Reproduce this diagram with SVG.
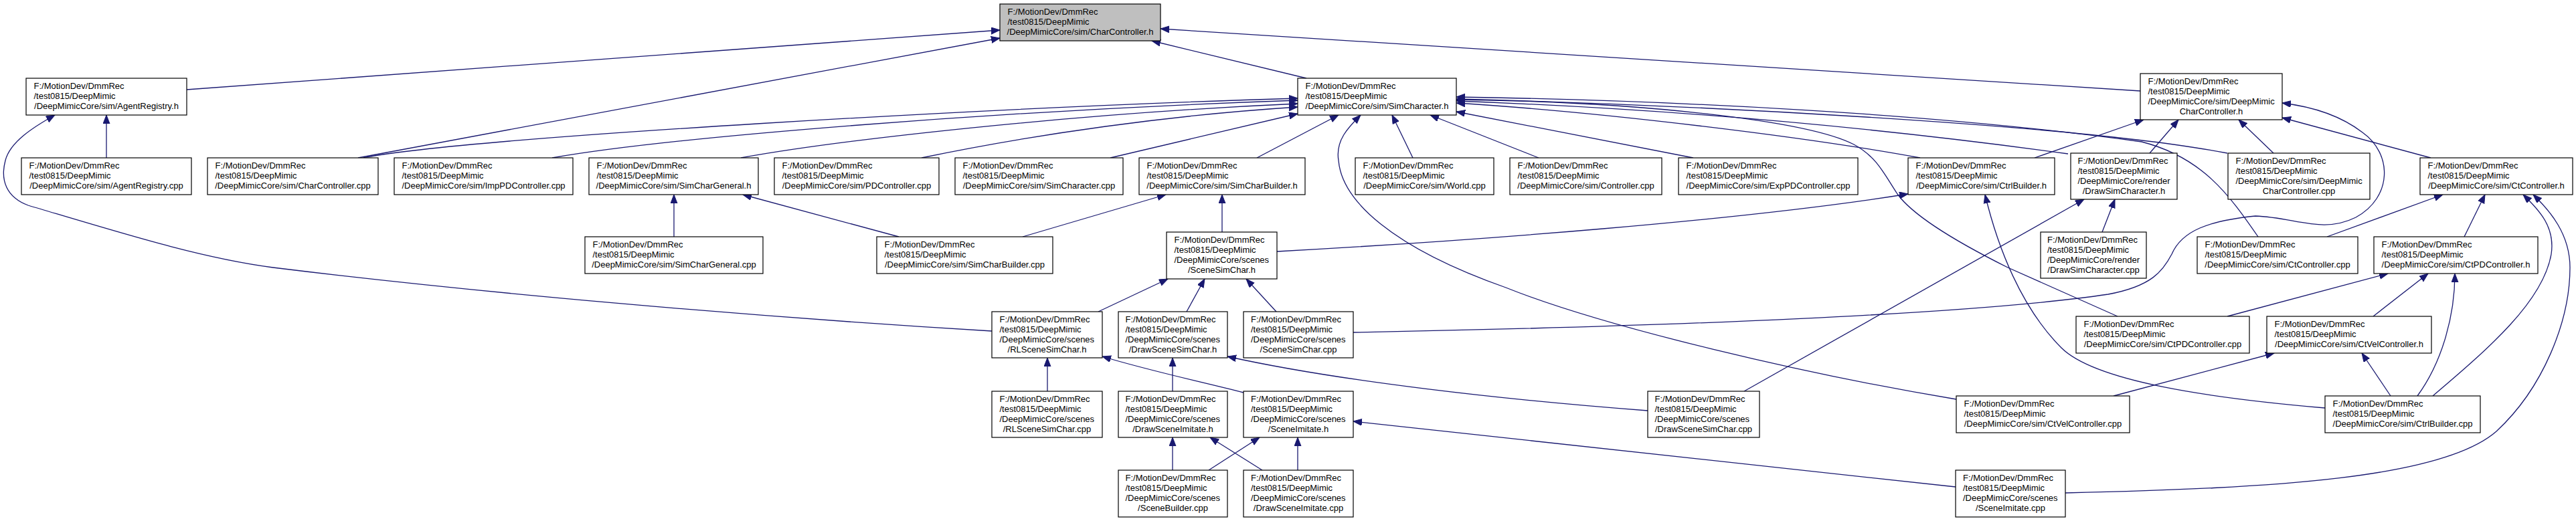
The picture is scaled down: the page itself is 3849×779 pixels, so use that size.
<svg xmlns="http://www.w3.org/2000/svg" width="3849" height="779" viewBox="0 0 3849 779">
<defs>
<marker id="a" markerUnits="userSpaceOnUse" markerWidth="14" markerHeight="11" refX="13" refY="5" orient="auto">
<path d="M0,0 L13,5 L0,10 z" fill="#191970" stroke="#191970" stroke-width="1"/>
</marker>
<style>
.n rect{fill:#ffffff;stroke:#000000;stroke-width:1.2}
.n.root rect{fill:#bfbfbf}
.n text{font-family:"Liberation Sans",Arial,sans-serif;font-size:13px;fill:#000000}
.c path{fill:none;stroke:#191970;stroke-width:1.3;marker-end:url(#a)}
.m{text-anchor:middle}
</style>
</defs>
<rect width="3849" height="779" fill="#ffffff"/>
<g class="c" id="connectors">
<path d="M279,134 L1494,45"/>
<path d="M535,236 L1494,57"/>
<path d="M1952,117 L1721,61"/>
<path d="M3198,136 L1734,43"/>
<path d="M159,236 L159,172"/>
<path d="M1482,495 C1100,472 700,436 408,400 C300,386 180,348 42,307 C10,295 0,270 8,240 C15,212 50,190 82,172"/>
<path d="M543,236 C700,205 1500,160 1939,147"/>
<path d="M825,236 C1000,205 1500,165 1939,150"/>
<path d="M1107,236 C1250,210 1600,170 1939,155"/>
<path d="M1377,236 C1550,200 1750,172 1939,160"/>
<path d="M1659,236 L1939,170"/>
<path d="M1878,236 L2000,172"/>
<path d="M2111,236 L2080,172"/>
<path d="M2299,236 L2137,172"/>
<path d="M2530,236 L2176,167"/>
<path d="M2869,236 C2700,205 2400,168 2176,154"/>
<path d="M3090,230 C2800,190 2500,163 2176,151"/>
<path d="M3328,229 C3100,185 2500,156 2176,148"/>
<path d="M3374,354 C3330,290 3290,235 3200,212 C2900,170 2500,150 2176,145"/>
<path d="M3164,473 L3000,400 C2930,365 2860,325 2835,290 C2815,260 2805,235 2770,216 C2700,180 2450,152 2176,149"/>
<path d="M2923,597 C2700,560 2400,490 2250,430 C2080,370 2005,300 2000,240 C1995,210 2015,190 2033,172"/>
<path d="M1343,354 L1110,291"/>
<path d="M1007,354 L1007,291"/>
<path d="M1528,354 L1742,291"/>
<path d="M1826,347 L1826,291"/>
<path d="M1908,376 C2200,360 2600,330 2851,290"/>
<path d="M3040,236 L3203,179"/>
<path d="M3212,229 L3255,179"/>
<path d="M3397,229 L3345,179"/>
<path d="M3632,236 L3410,176"/>
<path d="M2022,497 C2500,488 2950,470 3150,440 C3215,428 3232,405 3245,380 C3260,345 3300,330 3370,323 C3430,325 3470,350 3520,325 C3575,295 3575,230 3530,198 C3500,175 3460,160 3410,154"/>
<path d="M2606,585 L3114,298"/>
<path d="M3141,347 L3160,298"/>
<path d="M3474,610 C3300,595 3130,570 3080,520 C3020,460 2985,370 2966,291"/>
<path d="M3477,354 L3650,291"/>
<path d="M3682,354 L3713,291"/>
<path d="M3635,592 C3720,520 3800,450 3812,380 C3818,340 3795,315 3770,291"/>
<path d="M3086,737 C3400,730 3650,715 3730,645 C3800,580 3840,480 3840,400 C3840,350 3810,315 3785,291"/>
<path d="M3328,473 L3568,409"/>
<path d="M3546,473 L3628,409"/>
<path d="M3612,592 C3650,540 3668,470 3668,409"/>
<path d="M3572,592 L3529,528"/>
<path d="M3158,592 L3398,528"/>
<path d="M1641,466 L1745,417"/>
<path d="M1773,466 L1800,417"/>
<path d="M1907,466 L1862,417"/>
<path d="M1565,585 L1565,535"/>
<path d="M1858,587 C1800,572 1720,555 1647,533"/>
<path d="M1752,585 L1752,535"/>
<path d="M2462,614 C2250,598 2000,570 1834,533"/>
<path d="M1752,703 L1752,654"/>
<path d="M1886,703 L1808,654"/>
<path d="M1806,703 L1882,654"/>
<path d="M1939,703 L1939,654"/>
<path d="M2922,728 L2022,630"/>
</g>
<g class="n root" id="charcontroller_h"><rect x="1494" y="6" width="240" height="55"/><text><tspan x="1505.5" y="22">F:/MotionDev/DmmRec</tspan><tspan x="1505.5" y="37">/test0815/DeepMimic</tspan><tspan class="m" x="1614" y="52">/DeepMimicCore/sim/CharController.h</tspan></text></g>
<g class="n" id="agentregistry_h"><rect x="39" y="117" width="240" height="55"/><text><tspan x="50.5" y="133">F:/MotionDev/DmmRec</tspan><tspan x="50.5" y="148">/test0815/DeepMimic</tspan><tspan class="m" x="159" y="163">/DeepMimicCore/sim/AgentRegistry.h</tspan></text></g>
<g class="n" id="simcharacter_h"><rect x="1939" y="117" width="237" height="55"/><text><tspan x="1950.5" y="133">F:/MotionDev/DmmRec</tspan><tspan x="1950.5" y="148">/test0815/DeepMimic</tspan><tspan class="m" x="2057.5" y="163">/DeepMimicCore/sim/SimCharacter.h</tspan></text></g>
<g class="n" id="deepmimiccharcontroller_h"><rect x="3198" y="110" width="212" height="69"/><text><tspan x="3209.5" y="126">F:/MotionDev/DmmRec</tspan><tspan x="3209.5" y="141">/test0815/DeepMimic</tspan><tspan x="3209.5" y="156">/DeepMimicCore/sim/DeepMimic</tspan><tspan class="m" x="3304" y="171">CharController.h</tspan></text></g>
<g class="n" id="agentregistry_cpp"><rect x="32" y="236" width="254" height="55"/><text><tspan x="43.5" y="252">F:/MotionDev/DmmRec</tspan><tspan x="43.5" y="267">/test0815/DeepMimic</tspan><tspan class="m" x="159" y="282">/DeepMimicCore/sim/AgentRegistry.cpp</tspan></text></g>
<g class="n" id="charcontroller_cpp"><rect x="310" y="236" width="255" height="55"/><text><tspan x="321.5" y="252">F:/MotionDev/DmmRec</tspan><tspan x="321.5" y="267">/test0815/DeepMimic</tspan><tspan class="m" x="437.5" y="282">/DeepMimicCore/sim/CharController.cpp</tspan></text></g>
<g class="n" id="imppdcontroller_cpp"><rect x="589" y="236" width="267" height="55"/><text><tspan x="600.5" y="252">F:/MotionDev/DmmRec</tspan><tspan x="600.5" y="267">/test0815/DeepMimic</tspan><tspan class="m" x="722.5" y="282">/DeepMimicCore/sim/ImpPDController.cpp</tspan></text></g>
<g class="n" id="simchargeneral_h"><rect x="880" y="236" width="253" height="55"/><text><tspan x="891.5" y="252">F:/MotionDev/DmmRec</tspan><tspan x="891.5" y="267">/test0815/DeepMimic</tspan><tspan class="m" x="1006.5" y="282">/DeepMimicCore/sim/SimCharGeneral.h</tspan></text></g>
<g class="n" id="pdcontroller_cpp"><rect x="1157" y="236" width="246" height="55"/><text><tspan x="1168.5" y="252">F:/MotionDev/DmmRec</tspan><tspan x="1168.5" y="267">/test0815/DeepMimic</tspan><tspan class="m" x="1280" y="282">/DeepMimicCore/sim/PDController.cpp</tspan></text></g>
<g class="n" id="simcharacter_cpp"><rect x="1427" y="236" width="251" height="55"/><text><tspan x="1438.5" y="252">F:/MotionDev/DmmRec</tspan><tspan x="1438.5" y="267">/test0815/DeepMimic</tspan><tspan class="m" x="1552.5" y="282">/DeepMimicCore/sim/SimCharacter.cpp</tspan></text></g>
<g class="n" id="simcharbuilder_h"><rect x="1702" y="236" width="248" height="55"/><text><tspan x="1713.5" y="252">F:/MotionDev/DmmRec</tspan><tspan x="1713.5" y="267">/test0815/DeepMimic</tspan><tspan class="m" x="1826" y="282">/DeepMimicCore/sim/SimCharBuilder.h</tspan></text></g>
<g class="n" id="world_cpp"><rect x="2025" y="236" width="207" height="55"/><text><tspan x="2036.5" y="252">F:/MotionDev/DmmRec</tspan><tspan x="2036.5" y="267">/test0815/DeepMimic</tspan><tspan class="m" x="2128.5" y="282">/DeepMimicCore/sim/World.cpp</tspan></text></g>
<g class="n" id="controller_cpp"><rect x="2256" y="236" width="227" height="55"/><text><tspan x="2267.5" y="252">F:/MotionDev/DmmRec</tspan><tspan x="2267.5" y="267">/test0815/DeepMimic</tspan><tspan class="m" x="2369.5" y="282">/DeepMimicCore/sim/Controller.cpp</tspan></text></g>
<g class="n" id="exppdcontroller_cpp"><rect x="2508" y="236" width="268" height="55"/><text><tspan x="2519.5" y="252">F:/MotionDev/DmmRec</tspan><tspan x="2519.5" y="267">/test0815/DeepMimic</tspan><tspan class="m" x="2642" y="282">/DeepMimicCore/sim/ExpPDController.cpp</tspan></text></g>
<g class="n" id="ctrlbuilder_h"><rect x="2851" y="236" width="219" height="55"/><text><tspan x="2862.5" y="252">F:/MotionDev/DmmRec</tspan><tspan x="2862.5" y="267">/test0815/DeepMimic</tspan><tspan class="m" x="2960.5" y="282">/DeepMimicCore/sim/CtrlBuilder.h</tspan></text></g>
<g class="n" id="drawsimcharacter_h"><rect x="3094" y="229" width="159" height="69"/><text><tspan x="3104.5" y="245">F:/MotionDev/DmmRec</tspan><tspan x="3104.5" y="260">/test0815/DeepMimic</tspan><tspan x="3104.5" y="275">/DeepMimicCore/render</tspan><tspan class="m" x="3173.5" y="290">/DrawSimCharacter.h</tspan></text></g>
<g class="n" id="deepmimiccharcontroller_cpp"><rect x="3329" y="229" width="212" height="69"/><text><tspan x="3340.5" y="245">F:/MotionDev/DmmRec</tspan><tspan x="3340.5" y="260">/test0815/DeepMimic</tspan><tspan x="3340.5" y="275">/DeepMimicCore/sim/DeepMimic</tspan><tspan class="m" x="3435" y="290">CharController.cpp</tspan></text></g>
<g class="n" id="ctcontroller_h"><rect x="3616" y="236" width="228" height="55"/><text><tspan x="3627.5" y="252">F:/MotionDev/DmmRec</tspan><tspan x="3627.5" y="267">/test0815/DeepMimic</tspan><tspan class="m" x="3730" y="282">/DeepMimicCore/sim/CtController.h</tspan></text></g>
<g class="n" id="simchargeneral_cpp"><rect x="874" y="354" width="266" height="55"/><text><tspan x="885.5" y="370">F:/MotionDev/DmmRec</tspan><tspan x="885.5" y="385">/test0815/DeepMimic</tspan><tspan class="m" x="1007" y="400">/DeepMimicCore/sim/SimCharGeneral.cpp</tspan></text></g>
<g class="n" id="simcharbuilder_cpp"><rect x="1310" y="354" width="263" height="55"/><text><tspan x="1321.5" y="370">F:/MotionDev/DmmRec</tspan><tspan x="1321.5" y="385">/test0815/DeepMimic</tspan><tspan class="m" x="1441.5" y="400">/DeepMimicCore/sim/SimCharBuilder.cpp</tspan></text></g>
<g class="n" id="scenesimchar_h"><rect x="1743" y="347" width="165" height="70"/><text><tspan x="1754.5" y="363">F:/MotionDev/DmmRec</tspan><tspan x="1754.5" y="378">/test0815/DeepMimic</tspan><tspan x="1754.5" y="393">/DeepMimicCore/scenes</tspan><tspan class="m" x="1825.5" y="408">/SceneSimChar.h</tspan></text></g>
<g class="n" id="drawsimcharacter_cpp"><rect x="3049" y="347" width="158" height="69"/><text><tspan x="3059" y="363">F:/MotionDev/DmmRec</tspan><tspan x="3059" y="378">/test0815/DeepMimic</tspan><tspan x="3059" y="393">/DeepMimicCore/render</tspan><tspan class="m" x="3128" y="408">/DrawSimCharacter.cpp</tspan></text></g>
<g class="n" id="ctcontroller_cpp"><rect x="3283" y="354" width="240" height="55"/><text><tspan x="3294.5" y="370">F:/MotionDev/DmmRec</tspan><tspan x="3294.5" y="385">/test0815/DeepMimic</tspan><tspan class="m" x="3403" y="400">/DeepMimicCore/sim/CtController.cpp</tspan></text></g>
<g class="n" id="ctpdcontroller_h"><rect x="3547" y="354" width="245" height="55"/><text><tspan x="3558.5" y="370">F:/MotionDev/DmmRec</tspan><tspan x="3558.5" y="385">/test0815/DeepMimic</tspan><tspan class="m" x="3669.5" y="400">/DeepMimicCore/sim/CtPDController.h</tspan></text></g>
<g class="n" id="rlscenesimchar_h"><rect x="1482" y="466" width="165" height="69"/><text><tspan x="1493.5" y="482">F:/MotionDev/DmmRec</tspan><tspan x="1493.5" y="497">/test0815/DeepMimic</tspan><tspan x="1493.5" y="512">/DeepMimicCore/scenes</tspan><tspan class="m" x="1564.5" y="527">/RLSceneSimChar.h</tspan></text></g>
<g class="n" id="drawscenesimchar_h"><rect x="1671" y="466" width="163" height="69"/><text><tspan x="1681.5" y="482">F:/MotionDev/DmmRec</tspan><tspan x="1681.5" y="497">/test0815/DeepMimic</tspan><tspan x="1681.5" y="512">/DeepMimicCore/scenes</tspan><tspan class="m" x="1752.5" y="527">/DrawSceneSimChar.h</tspan></text></g>
<g class="n" id="scenesimchar_cpp"><rect x="1858" y="466" width="164" height="69"/><text><tspan x="1869" y="482">F:/MotionDev/DmmRec</tspan><tspan x="1869" y="497">/test0815/DeepMimic</tspan><tspan x="1869" y="512">/DeepMimicCore/scenes</tspan><tspan class="m" x="1940" y="527">/SceneSimChar.cpp</tspan></text></g>
<g class="n" id="ctpdcontroller_cpp"><rect x="3102" y="473" width="259" height="55"/><text><tspan x="3113.5" y="489">F:/MotionDev/DmmRec</tspan><tspan x="3113.5" y="504">/test0815/DeepMimic</tspan><tspan class="m" x="3231.5" y="519">/DeepMimicCore/sim/CtPDController.cpp</tspan></text></g>
<g class="n" id="ctvelcontroller_h"><rect x="3387" y="473" width="246" height="55"/><text><tspan x="3398.5" y="489">F:/MotionDev/DmmRec</tspan><tspan x="3398.5" y="504">/test0815/DeepMimic</tspan><tspan class="m" x="3510" y="519">/DeepMimicCore/sim/CtVelController.h</tspan></text></g>
<g class="n" id="rlscenesimchar_cpp"><rect x="1482" y="585" width="165" height="69"/><text><tspan x="1493.5" y="601">F:/MotionDev/DmmRec</tspan><tspan x="1493.5" y="616">/test0815/DeepMimic</tspan><tspan x="1493.5" y="631">/DeepMimicCore/scenes</tspan><tspan class="m" x="1564.5" y="646">/RLSceneSimChar.cpp</tspan></text></g>
<g class="n" id="drawsceneimitate_h"><rect x="1671" y="585" width="163" height="69"/><text><tspan x="1681.5" y="601">F:/MotionDev/DmmRec</tspan><tspan x="1681.5" y="616">/test0815/DeepMimic</tspan><tspan x="1681.5" y="631">/DeepMimicCore/scenes</tspan><tspan class="m" x="1752.5" y="646">/DrawSceneImitate.h</tspan></text></g>
<g class="n" id="sceneimitate_h"><rect x="1858" y="585" width="164" height="69"/><text><tspan x="1869" y="601">F:/MotionDev/DmmRec</tspan><tspan x="1869" y="616">/test0815/DeepMimic</tspan><tspan x="1869" y="631">/DeepMimicCore/scenes</tspan><tspan class="m" x="1940" y="646">/SceneImitate.h</tspan></text></g>
<g class="n" id="drawscenesimchar_cpp"><rect x="2462" y="585" width="167" height="69"/><text><tspan x="2472.5" y="601">F:/MotionDev/DmmRec</tspan><tspan x="2472.5" y="616">/test0815/DeepMimic</tspan><tspan x="2472.5" y="631">/DeepMimicCore/scenes</tspan><tspan class="m" x="2545.5" y="646">/DrawSceneSimChar.cpp</tspan></text></g>
<g class="n" id="ctvelcontroller_cpp"><rect x="2923" y="592" width="259" height="55"/><text><tspan x="2934.5" y="608">F:/MotionDev/DmmRec</tspan><tspan x="2934.5" y="623">/test0815/DeepMimic</tspan><tspan class="m" x="3052.5" y="638">/DeepMimicCore/sim/CtVelController.cpp</tspan></text></g>
<g class="n" id="ctrlbuilder_cpp"><rect x="3474" y="592" width="232" height="55"/><text><tspan x="3485.5" y="608">F:/MotionDev/DmmRec</tspan><tspan x="3485.5" y="623">/test0815/DeepMimic</tspan><tspan class="m" x="3590" y="638">/DeepMimicCore/sim/CtrlBuilder.cpp</tspan></text></g>
<g class="n" id="scenebuilder_cpp"><rect x="1671" y="703" width="163" height="70"/><text><tspan x="1681.5" y="719">F:/MotionDev/DmmRec</tspan><tspan x="1681.5" y="734">/test0815/DeepMimic</tspan><tspan x="1681.5" y="749">/DeepMimicCore/scenes</tspan><tspan class="m" x="1752.5" y="764">/SceneBuilder.cpp</tspan></text></g>
<g class="n" id="drawsceneimitate_cpp"><rect x="1858" y="703" width="164" height="70"/><text><tspan x="1869" y="719">F:/MotionDev/DmmRec</tspan><tspan x="1869" y="734">/test0815/DeepMimic</tspan><tspan x="1869" y="749">/DeepMimicCore/scenes</tspan><tspan class="m" x="1940" y="764">/DrawSceneImitate.cpp</tspan></text></g>
<g class="n" id="sceneimitate_cpp"><rect x="2922" y="703" width="164" height="70"/><text><tspan x="2933" y="719">F:/MotionDev/DmmRec</tspan><tspan x="2933" y="734">/test0815/DeepMimic</tspan><tspan x="2933" y="749">/DeepMimicCore/scenes</tspan><tspan class="m" x="3004" y="764">/SceneImitate.cpp</tspan></text></g>
</svg>
